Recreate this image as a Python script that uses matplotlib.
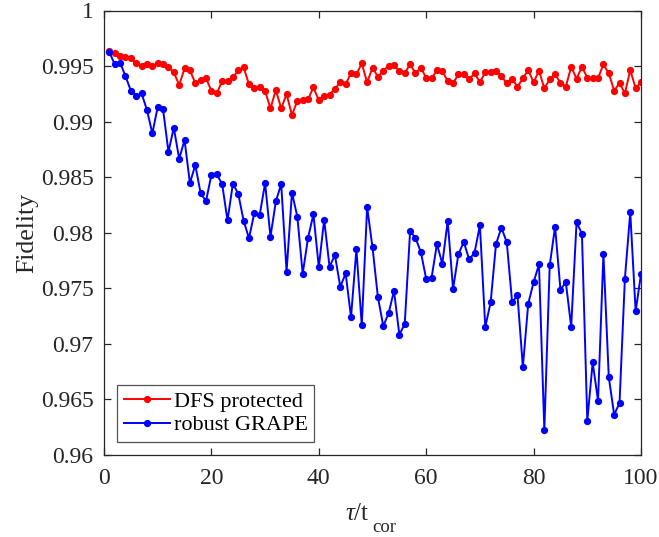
import numpy as np
import matplotlib
matplotlib.use( "Agg" )
import matplotlib.pyplot as plt


# ========================================================= #
# ===  data                       === #
# ========================================================= #

tau = np.arange( 1, 101 )

dfs_protected = [
    0.99638, 0.99615, 0.99593, 0.99578, 0.99569, 0.99524, 0.99503, 0.99515, 0.99503, 0.99524,
    0.99518, 0.99488, 0.99443, 0.99329, 0.99479, 0.99461, 0.99347, 0.99377, 0.99389, 0.99278,
    0.99254, 0.99365, 0.99368, 0.99398, 0.99461, 0.99488, 0.99335, 0.99305, 0.99314, 0.99275,
    0.99119, 0.99284, 0.99119, 0.99248, 0.99059, 0.99188, 0.99191, 0.99203, 0.99308, 0.99191,
    0.99227, 0.99242, 0.99296, 0.99353, 0.99335, 0.99437, 0.99425, 0.99524, 0.99353, 0.99485,
    0.99404, 0.99458, 0.99503, 0.99509, 0.99455, 0.99434, 0.99518, 0.99434, 0.99485, 0.99395,
    0.99389, 0.99464, 0.99455, 0.99365, 0.99347, 0.99425, 0.99425, 0.99380, 0.99434, 0.99356,
    0.99443, 0.99443, 0.99452, 0.99410, 0.99344, 0.99386, 0.99314, 0.99389, 0.99464, 0.99353,
    0.99458, 0.99299, 0.99380, 0.99425, 0.99350, 0.99314, 0.99494, 0.99386, 0.99494, 0.99395,
    0.99392, 0.99392, 0.99515, 0.99434, 0.99278, 0.99347, 0.99254, 0.99464, 0.99299, 0.99356,
]

robust_grape = [
    0.99626, 0.99515, 0.99530, 0.99410, 0.99278, 0.99233, 0.99254, 0.99104, 0.98894, 0.99131,
    0.99110, 0.98729, 0.98945, 0.98666, 0.98834, 0.98447, 0.98609, 0.98354, 0.98285, 0.98522,
    0.98525, 0.98438, 0.98111, 0.98441, 0.98351, 0.98108, 0.97950, 0.98180, 0.98162, 0.98447,
    0.97964, 0.98282, 0.98439, 0.97649, 0.98361, 0.98145, 0.97631, 0.97955, 0.98166, 0.97691,
    0.98118, 0.97694, 0.97799, 0.97514, 0.97634, 0.97241, 0.97850, 0.97167, 0.98232, 0.97868,
    0.97424, 0.97161, 0.97274, 0.97478, 0.97083, 0.97179, 0.98012, 0.97955, 0.97826, 0.97584,
    0.97595, 0.97898, 0.97721, 0.98106, 0.97493, 0.97808, 0.97916, 0.97760, 0.97820, 0.98067,
    0.97152, 0.97374, 0.97898, 0.98046, 0.97916, 0.97374, 0.97436, 0.96791, 0.97362, 0.97554,
    0.97715, 0.96224, 0.97706, 0.98055, 0.97487, 0.97554, 0.97155, 0.98094, 0.97991, 0.96309,
    0.96833, 0.96488, 0.97811, 0.96701, 0.96363, 0.96467, 0.97587, 0.98184, 0.97293, 0.97628,
]

xticks      = [ 0, 20, 40, 60, 80, 100 ]
yticks      = [ 0.96, 0.965, 0.97, 0.975, 0.98, 0.985, 0.99, 0.995, 1.0 ]
ytickLabels = [ "0.96", "0.965", "0.97", "0.975", "0.98", "0.985", "0.99", "0.995", "1" ]


# ========================================================= #
# ===  plot                                             === #
# ========================================================= #

plt.rcParams["font.family"]      = [ "Liberation Serif", "DejaVu Serif" ]
plt.rcParams["mathtext.fontset"] = "custom"
plt.rcParams["mathtext.rm"]      = "Liberation Serif"
plt.rcParams["mathtext.it"]      = "Liberation Serif:italic"

txtColor = "#262626"

fig = plt.figure( figsize=(6.59,5.37), dpi=100 )
ax1 = fig.add_axes( [ 104/659, 82/537, 537/659, 444.5/537 ] )

ax1.plot( tau, dfs_protected, "-o", color="#ff0000", lw=1.4, ms=4.2, label="DFS protected" )
ax1.plot( tau, robust_grape,  "-o", color="#0000ff", lw=1.4, ms=4.2, label="robust GRAPE" )

# --- axis settings --- #
ax1.set_xlim( [ 0, 100 ] )
ax1.set_ylim( [ 0.96, 1.0 ] )
ax1.set_xticks( xticks )
ax1.set_yticks( yticks )
ax1.set_yticklabels( ytickLabels )
ax1.tick_params( direction="in", top=True, right=True, length=5, width=0.9,
                 labelsize=17, colors=txtColor )
ax1.tick_params( axis="y", pad=7.5 )
ax1.tick_params( axis="x", pad=9 )
for sp in ax1.spines.values():
    sp.set_color( txtColor )
    sp.set_linewidth( 0.9 )

# --- axis labels (MATLAB-like deep subscript) --- #
ax1.set_ylabel( "Fidelity", fontsize=18.5, color=txtColor, labelpad=2 )
fig.text( 345/659, 1-520/537, r"$\tau$/t", fontsize=18, color=txtColor,
          ha="left", va="baseline" )
fig.text( 372/659, 1-532/537, "cor", fontsize=13.5, color=txtColor,
          ha="left", va="baseline" )

# --- legend --- #
leg = ax1.legend( loc="lower left", numpoints=1, fontsize=16, frameon=True, fancybox=False,
                  edgecolor=txtColor, handlelength=2.1, borderpad=0.28, labelspacing=0.12,
                  handletextpad=0.15, borderaxespad=0.6 )
leg.get_frame().set_linewidth( 0.9 )

fig.savefig( "out.png", dpi=100 )
